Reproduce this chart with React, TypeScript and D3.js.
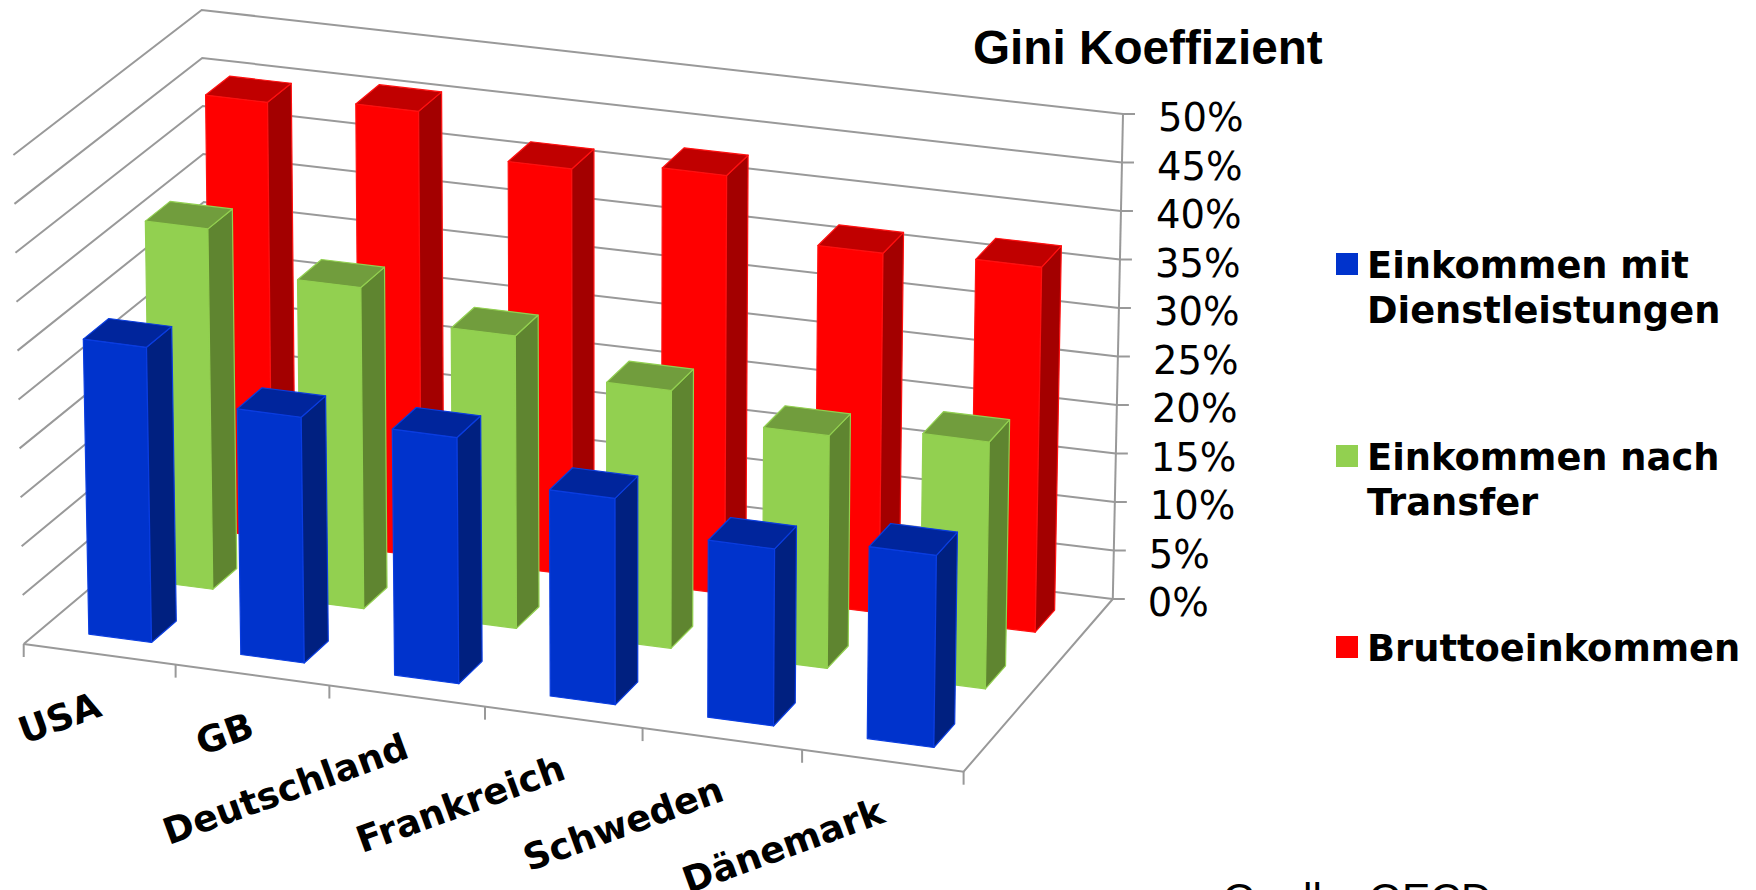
import React from "react";
import * as d3 from "d3";

const categories = ["USA", "GB", "Deutschland", "Frankreich", "Schweden", "Dänemark"];
const blueValues = [30.2, 25.1, 25.1, 21, 18, 19.5];
const greenValues = [37.1, 33, 30, 26.4, 23.8, 25.2];
const redValues = [45.1, 46, 41.9, 43.1, 37, 37.5];
const yTicks = [0, 5, 10, 15, 20, 25, 30, 35, 40, 45, 50];

const seriesNames = ["Bruttoeinkommen", "Einkommen nach Transfer", "Einkommen mit Dienstleistungen"];
const seriesStyles = [
  { front: "#ff0000", side: "#a30000", top: "#c00000", edge: "#ff1010" },
  { front: "#92d050", side: "#5f8530", top: "#719d3d", edge: "#92d050" },
  { front: "#0033cc", side: "#002080", top: "#00259c", edge: "#0a3de0" },
];

type P = [number, number];
type Quad = [P, P, P, P];

// projection frame of the 3D box: front-left, front-right, back-right, back-left
const floorQuad: Quad = [[23.7, 644], [963.6, 771.7], [1112.8, 599], [207, 490]];
const topQuad: Quad = [[13.4, 155], [971, 278], [1123, 114], [201.7, 10]];
const widthWarp = 0.958;

function homography(q: Quad) {
  const [[x0, y0], [x1, y1], [x2, y2], [x3, y3]] = q;
  const dx1 = x1 - x2, dx2 = x3 - x2, sx = x0 - x1 + x2 - x3;
  const dy1 = y1 - y2, dy2 = y3 - y2, sy = y0 - y1 + y2 - y3;
  const den = dx1 * dy2 - dx2 * dy1;
  const g = (sx * dy2 - dx2 * sy) / den;
  const h = (dx1 * sy - sx * dy1) / den;
  const a = x1 - x0 + g * x1, b = x3 - x0 + h * x3;
  const d = y1 - y0 + g * y1, e = y3 - y0 + h * y3;
  return (u: number, v: number): P => {
    const w = g * u + h * v + 1;
    return [(a * u + b * v + x0) / w, (d * u + e * v + y0) / w];
  };
}

const floorH = homography(floorQuad);
const topH = homography(topQuad);
const zScale = d3.scaleLinear().domain([0, 50]).range([0, 1]);
const project = (u0: number, v: number, value: number): P => {
  const u = u0 / (u0 + widthWarp * (1 - u0));
  const t = zScale(value);
  const f = floorH(u, v), c = topH(u, v);
  return [f[0] + (c[0] - f[0]) * t, f[1] + (c[1] - f[1]) * t];
};

const xBand = d3.scaleBand<string>().domain(categories).range([0.002, 1.002]).paddingInner(0.586).paddingOuter(0.293);
const depthBand = d3.scaleBand<string>().domain([...seriesNames].reverse()).range([0, 1]).paddingInner(0.6).paddingOuter(0.3);
const xStep = d3.scalePoint<string>().domain(categories).range([0, 1]).padding(0.5);

const line = d3.line<P>();
const poly = (pts: P[]) => line(pts) + "Z";
const GRID = "#999999";

const seriesValues = [redValues, greenValues, blueValues];

function Bar({ u0, u1, v0, v1, value, style }: any) {
  const a = project(u0, v0, 0), b = project(u1, v0, 0), c = project(u1, v1, 0);
  const at = project(u0, v0, value), bt = project(u1, v0, value), ct = project(u1, v1, value), dt = project(u0, v1, value);
  return (
    <g strokeWidth={1.2} strokeLinejoin="round">
      <path d={poly([a, b, bt, at])} fill={style.front} stroke={style.edge} />
      <path d={poly([b, c, ct, bt])} fill={style.side} stroke={style.edge} />
      <path d={poly([at, bt, ct, dt])} fill={style.top} stroke={style.edge} />
    </g>
  );
}

const legendItems = [
  { lines: ["Einkommen mit", "Dienstleistungen"], color: "#0033cc", y: 253 },
  { lines: ["Einkommen nach", "Transfer"], color: "#92d050", y: 445 },
  { lines: ["Bruttoeinkommen"], color: "#ff0000", y: 636 },
];

export default function App() {
  return (
    <svg width={1756} height={890} style={{ position: "absolute", left: 0, top: 0, background: "#fff" }}>
      {/* walls */}
      <g stroke={GRID} strokeWidth={2} fill="none">
        {yTicks.map((t) => (
          <path key={t} d={line([project(0, 0, t), project(0, 1, t), project(1, 1, t)]) as string} />
        ))}
        <path d={line([project(1, 1, 0), project(1, 1, 50)]) as string} />
        <path d={line([project(0, 0, 0), project(1, 0, 0), project(1, 1, 0)]) as string} />
        {yTicks.map((t) => {
          const p = project(1, 1, t);
          return <path key={t} d={line([p, [p[0] + 12, p[1]]]) as string} />;
        })}
        {d3.range(categories.length + 1).map((i) => {
          const p = project(i / categories.length, 0, 0);
          return <path key={i} d={line([p, [p[0], p[1] + 13]]) as string} />;
        })}
      </g>
      {/* bars, back to front */}
      {seriesNames.map((s, si) => (
        <g key={s}>
          {categories.map((c, ci) => {
            const u0 = xBand(c) as number, v0 = depthBand(s) as number;
            return (
              <Bar key={c} u0={u0} u1={u0 + xBand.bandwidth()} v0={v0} v1={v0 + depthBand.bandwidth()}
                value={seriesValues[si][ci]} style={seriesStyles[si]} />
            );
          })}
        </g>
      ))}
      {/* value labels */}
      <g fontFamily="'DejaVu Sans'" fontSize={38.5} fill="#000">
        {yTicks.map((t) => {
          const p = project(1, 1, t);
          return <text key={t} x={p[0] + 35} y={p[1] + 17}>{t}%</text>;
        })}
      </g>
      {/* category labels */}
      <g fontFamily="'DejaVu Sans'" fontWeight="bold" fontSize={36.6} fill="#000" textAnchor="end">
        {categories.map((c) => {
          const p = project(xStep(c) as number, 0, 0);
          return <text key={c} transform={`translate(${p[0] + 4},${p[1] + 61}) rotate(-20)`}>{c}</text>;
        })}
      </g>
      {/* legend */}
      {legendItems.map((it) => (
        <g key={it.color}>
          <rect x={1336} y={it.y} width={22} height={22} fill={it.color} />
          {it.lines.map((l, i) => (
            <text key={l} x={1367} y={it.y + 25 + i * 45} fontFamily="'DejaVu Sans'" fontWeight="bold" fontSize={36.8} fill="#000">{l}</text>
          ))}
        </g>
      ))}
      <text x={973} y={64} fontFamily="'Liberation Sans'" fontWeight="bold" fontSize={47.7} fill="#000">Gini Koeffizient</text>
      <text x={1223} y={913} fontFamily="'Liberation Sans'" fontSize={42.4} fill="#000">Quelle: OECD</text>
    </svg>
  );
}
